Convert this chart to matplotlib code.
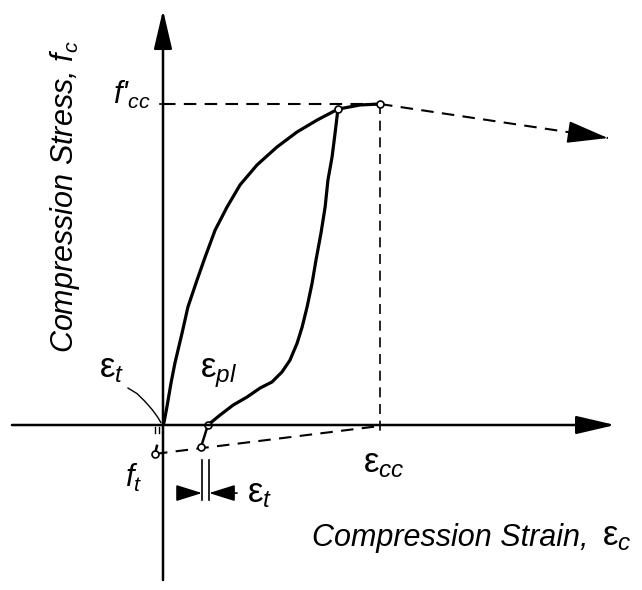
import numpy as np
import matplotlib
matplotlib.use('Agg')
import matplotlib.pyplot as plt

plt.rcParams['font.family'] = ['Liberation Sans', 'DejaVu Sans']
plt.rcParams['mathtext.fontset'] = 'custom'
plt.rcParams['mathtext.it'] = 'Liberation Sans:italic'
plt.rcParams['mathtext.rm'] = 'Liberation Sans'
plt.rcParams['mathtext.sf'] = 'Liberation Sans'

# normalised units: strain / eps_cc, stress / f'cc
load_strain = [0, 0.005, 0.018, 0.037, 0.055, 0.088, 0.115, 0.157, 0.194, 0.240, 0.295,
               0.355, 0.433, 0.525, 0.618, 0.710, 0.806, 0.908, 1.0]
load_stress = [0, 0.009, 0.056, 0.131, 0.193, 0.287, 0.368, 0.452, 0.523, 0.607, 0.679,
               0.748, 0.810, 0.866, 0.913, 0.950, 0.984, 0.997, 1.0]

unload_strain = [0.806, 0.793, 0.779, 0.760, 0.747, 0.728, 0.705, 0.687, 0.664, 0.641,
                 0.618, 0.585, 0.548, 0.502, 0.447, 0.387, 0.323, 0.263, 0.207]
unload_stress = [0.984, 0.910, 0.835, 0.763, 0.679, 0.598, 0.514, 0.442, 0.368, 0.305,
                 0.255, 0.202, 0.165, 0.134, 0.115, 0.087, 0.062, 0.031, 0.0]

peak = (1.0, 1.0)
unload_pt = (0.806, 0.984)
eps_pl = (0.207, 0.0)
tension_pt = (0.175, -0.069)
ft_pt = (-0.037, -0.090)
softening_end = (2.05, 0.894)

fig = plt.figure(figsize=(6.42, 5.90), dpi=100)
ax = fig.add_axes([0, 0, 1, 1])
ax.set_xlim(-0.751, 2.207)
ax.set_ylim(-0.514, 1.324)
ax.axis('off')

arrow = dict(arrowstyle='-|>,head_length=1.2,head_width=0.28', mutation_scale=20,
             lw=1.8, color='black', shrinkA=0, shrinkB=0)

# axes with arrows
ax.annotate('', xy=(2.083, 0), xytext=(-0.696, 0), arrowprops=arrow)
ax.annotate('', xy=(0, 1.293), xytext=(0, -0.483), arrowprops=arrow)

dash = (0, (6, 4))
# f'cc level and eps_cc
ax.plot([0, peak[0]], [peak[1], peak[1]], color='black', lw=1.5, ls=dash)
ax.plot([peak[0], peak[0]], [peak[1], -0.022], color='black', lw=1.2, ls=dash)
ax.plot([-0.012, 0.012], [1, 1], color='black', lw=1.2)

# softening branch
ax.plot([peak[0], softening_end[0]], [peak[1], softening_end[1]], color='black', lw=1.5, ls=dash)
base = np.array(peak) + 0.86 * (np.array(softening_end) - np.array(peak))
ax.annotate('', xy=softening_end, xytext=tuple(base),
            arrowprops=dict(arrowstyle='-|>,head_length=1.3,head_width=0.35', mutation_scale=20,
                            lw=1.2, color='black', shrinkA=0, shrinkB=0))

# tension line
ax.plot([ft_pt[0], 1.0], [ft_pt[1], -0.003], color='black', lw=1.5, ls=dash)
ax.plot([ft_pt[0], -0.028], [ft_pt[1], -0.065], color='black', lw=1.8)
ax.plot([tension_pt[0], eps_pl[0]], [tension_pt[1], eps_pl[1]], color='black', lw=1.8)

# loading and unloading curves
ax.plot(load_strain, load_stress, color='black', lw=2.3, solid_capstyle='round',
        solid_joinstyle='round')
ax.plot(unload_strain, unload_stress, color='black', lw=2.3, solid_capstyle='round',
        solid_joinstyle='round')

for p in [peak, unload_pt, eps_pl, tension_pt, ft_pt]:
    ax.plot(p[0], p[1], marker='o', ms=5, mfc='white', mec='black', mew=1.2)

# small ticks at origin
for xt in [-0.037, -0.018]:
    ax.plot([xt, xt], [-0.006, -0.025], color='black', lw=1.0)

# eps_t leader
ax.plot([-0.161, -0.120, -0.085, -0.050, -0.025, -0.010], [0.115, 0.098, 0.075, 0.048, 0.025, 0.008],
        color='black', lw=1.0)

# eps_t dimension
ax.plot([0.180, 0.180], [-0.109, -0.234], color='black', lw=1.2)
ax.plot([0.212, 0.212], [-0.109, -0.234], color='black', lw=1.2)
dim = dict(arrowstyle='-|>,head_length=0.8,head_width=0.25', mutation_scale=20,
           lw=1.2, color='black', shrinkA=0, shrinkB=0)
ax.annotate('', xy=(0.180, -0.212), xytext=(0.078, -0.212), arrowprops=dim)
ax.annotate('', xy=(0.212, -0.212), xytext=(0.341, -0.212), arrowprops=dim)

# labels
fs = 22
fe = 25
ax.text(-0.055, 1.0, "f'$_{cc}$", fontsize=fs, style='italic', ha='right', va='baseline')
ax.text(-0.295, 0.148, "ε$_t$", fontsize=fe, ha='left', va='baseline')
ax.text(0.171, 0.148, "ε$_{pl}$", fontsize=fe, ha='left', va='baseline')
ax.text(-0.175, -0.193, "f$_t$", fontsize=fs, style='italic', ha='left', va='baseline')
ax.text(0.387, -0.240, "ε$_t$", fontsize=fe, ha='left', va='baseline')
ax.text(0.92, -0.146, "ε$_{cc}$", fontsize=fe, ha='left', va='baseline')
ax.text(0.687, -0.376, "Compression Strain,", fontsize=22, style='italic', ha='left', va='baseline')
ax.text(2.023, -0.376, "ε$_c$", fontsize=fe, ha='left', va='baseline')
ax.text(-0.452, 0.710, "Compression Stress, $f_c$", fontsize=fs, style='italic',
        rotation=90, ha='center', va='center')

plt.savefig('out.png', dpi=100)
